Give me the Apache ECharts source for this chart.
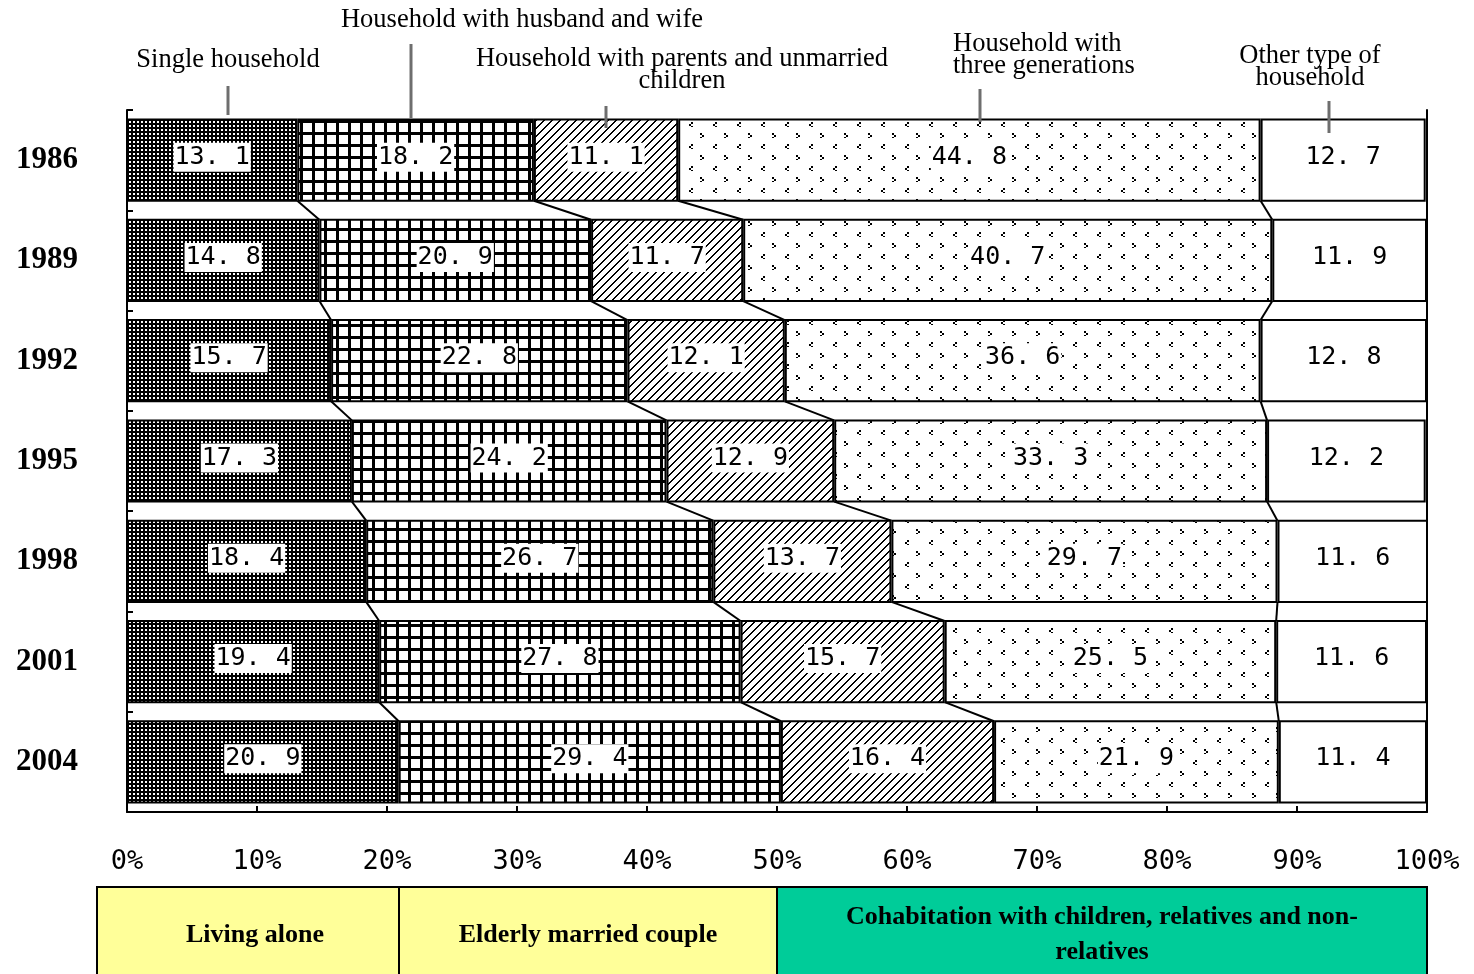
<!DOCTYPE html>
<html>
<head>
<meta charset="utf-8">
<title>Household structure of elderly people</title>
<script src="https://cdn.jsdelivr.net/npm/echarts@6/dist/echarts.min.js"></script>
<style>
  html, body { margin: 0; padding: 0; background: #fff; }
  #chart { width: 1474px; height: 974px; }
</style>
</head>
<body>
<div id="chart"></div>
<script>
// Survey years (one bar per year)
const years = ['1986', '1989', '1992', '1995', '1998', '2001', '2004'];

// Share of households (%) by type
const singleHousehold   = [13.1, 14.8, 15.7, 17.3, 18.4, 19.4, 20.9];
const husbandAndWife    = [18.2, 20.9, 22.8, 24.2, 26.7, 27.8, 29.4];
const parentsUnmarried  = [11.1, 11.7, 12.1, 12.9, 13.7, 15.7, 16.4];
const threeGenerations  = [44.8, 40.7, 36.6, 33.3, 29.7, 25.5, 21.9];
const otherHousehold    = [12.7, 11.9, 12.8, 12.2, 11.6, 11.6, 11.4];

// Percent axis ticks
const percentTicks = [0, 10, 20, 30, 40, 50, 60, 70, 80, 90, 100];

const seriesValues = [singleHousehold, husbandAndWife, parentsUnmarried, threeGenerations, otherHousehold];

// ---- fill patterns ----
function makeTile(w, h, draw) {
  const c = document.createElement('canvas');
  c.width = w; c.height = h;
  const ctx = c.getContext('2d');
  draw(ctx);
  return { image: c, repeat: 'repeat' };
}
// dark field with small white dots
const densePattern = makeTile(4, 4, ctx => {
  ctx.fillStyle = '#000'; ctx.fillRect(0, 0, 4, 4);
  ctx.fillStyle = '#fff'; ctx.fillRect(1, 1, 2, 2);
});
// square lattice
const gridPattern = makeTile(12, 12, ctx => {
  ctx.fillStyle = '#000'; ctx.fillRect(0, 0, 12, 12);
  ctx.fillStyle = '#fff'; ctx.fillRect(3, 3, 9, 9);
});
// forward diagonal hatching
const hatchPattern = makeTile(8, 8, ctx => {
  ctx.fillStyle = '#fff'; ctx.fillRect(0, 0, 8, 8);
  ctx.fillStyle = '#000';
  for (let y = 0; y < 8; y++) {
    const x = (7 - y + 8) % 8;
    ctx.fillRect(x, y, 2, 1);
    if (x + 2 > 8) ctx.fillRect(0, y, x + 2 - 8, 1);
  }
});
// sparse chevron dots
const sparsePattern = makeTile(24, 22, ctx => {
  ctx.fillStyle = '#fff'; ctx.fillRect(0, 0, 24, 22);
  ctx.fillStyle = '#000';
  // ">" mark
  ctx.fillRect(4, 1, 2, 2); ctx.fillRect(6, 3, 2, 2); ctx.fillRect(4, 5, 2, 1);
  // "<" mark
  ctx.fillRect(19, 12, 2, 2); ctx.fillRect(17, 14, 2, 2); ctx.fillRect(19, 16, 2, 1);
});

const fills = [densePattern, gridPattern, hatchPattern, sparsePattern, '#ffffff'];
const names = ['Single household', 'Household with husband and wife',
  'Household with parents and unmarried children', 'Household with three generations',
  'Other type of household'];

const BAR_RATIO = 0.83;

function fmtValue(v) {
  return v.toFixed(1).replace('.', '. ');
}

const barSeries = seriesValues.map((vals, s) => ({
  name: names[s],
  type: 'bar',
  stack: 'total',
  barWidth: (BAR_RATIO * 100) + '%',
  data: vals,
  itemStyle: { color: fills[s], borderColor: '#000', borderWidth: 2 },
  label: {
    show: true,
    position: 'inside',
    offset: [0, -3],
    formatter: p => fmtValue(p.value),
    fontFamily: '"DejaVu Sans Mono", monospace',
    fontSize: 25,
    color: '#000',
    backgroundColor: '#fff',
    padding: [3, 1, 1, 1]
  },
  emphasis: { disabled: true },
  silent: true
}));

// series lines joining the segment boundaries of consecutive bars
const connectorData = [];
for (let i = 0; i < years.length - 1; i++) {
  let a = 0, b = 0;
  for (let s = 0; s < seriesValues.length - 1; s++) {
    a += seriesValues[s][i];
    b += seriesValues[s][i + 1];
    connectorData.push([+a.toFixed(1), i, +b.toFixed(1), i + 1]);
  }
}

const connectorSeries = {
  type: 'custom',
  silent: true,
  z: 3,
  encode: { x: [0, 2], y: [1, 3] },
  data: connectorData,
  renderItem: (params, api) => {
    const p0 = api.coord([api.value(0), api.value(1)]);
    const p1 = api.coord([api.value(2), api.value(3)]);
    const half = api.size([0, 1])[1] * BAR_RATIO / 2;
    return {
      type: 'line',
      shape: { x1: p0[0], y1: p0[1] + half - 1, x2: p1[0], y2: p1[1] - half + 1 },
      style: { stroke: '#000', lineWidth: 2 }
    };
  }
};

const serif = '"Liberation Serif", "Times New Roman", serif';

// category captions above the bars, with leader lines
function caption(x, y, text, align) {
  return {
    type: 'text', x: x, y: y, silent: true,
    style: {
      text: text, font: '26.5px ' + serif, fill: '#000',
      textAlign: align || 'center', textVerticalAlign: 'middle', lineHeight: 22
    }
  };
}
function leader(x, y1, y2) {
  return {
    type: 'line', silent: true, z: 10,
    shape: { x1: x, y1: y1, x2: x, y2: y2 },
    style: { stroke: '#6e6e6e', lineWidth: 3 }
  };
}

// grouping boxes under the axis
function groupBox(x1, x2, fill, text, textX) {
  return {
    type: 'group', silent: true,
    children: [
      { type: 'rect', shape: { x: x1, y: 887, width: x2 - x1, height: 100 },
        style: { fill: fill, stroke: '#000', lineWidth: 2 } },
      { type: 'text', x: textX, y: 935,
        style: { text: text, font: 'bold 26px ' + serif, fill: '#000',
          textAlign: 'center', textVerticalAlign: 'middle', lineHeight: 35 } }
    ]
  };
}

const chart = echarts.init(document.getElementById('chart'), null, { renderer: 'canvas' });

chart.setOption({
  animation: false,
  backgroundColor: '#fff',
  grid: { left: 127, right: 47, top: 110, bottom: 162, containLabel: false },
  xAxis: {
    type: 'value',
    min: percentTicks[0],
    max: percentTicks[percentTicks.length - 1],
    interval: percentTicks[1] - percentTicks[0],
    axisLine: { show: true, lineStyle: { color: '#000', width: 2 } },
    axisTick: { show: true, inside: true, length: 6, lineStyle: { color: '#000', width: 2 } },
    splitLine: { show: false },
    axisLabel: {
      margin: 36,
      formatter: v => v + '%',
      fontFamily: '"DejaVu Sans Mono", monospace',
      fontSize: 27,
      color: '#000'
    }
  },
  yAxis: [{
    type: 'category',
    data: years,
    inverse: true,
    axisLine: { show: true, lineStyle: { color: '#000', width: 2 } },
    axisTick: { show: true, inside: true, length: 6, lineStyle: { color: '#000', width: 2 } },
    axisLabel: {
      margin: 49,
      fontFamily: serif,
      fontWeight: 'bold',
      fontSize: 31,
      color: '#000'
    }
  }, {
    type: 'category',
    data: years,
    inverse: true,
    position: 'right',
    axisLine: { show: true, lineStyle: { color: '#000', width: 2 } },
    axisTick: { show: false },
    axisLabel: { show: false }
  }],
  series: barSeries.concat([connectorSeries]),
  graphic: [
    caption(522, 20, 'Household with husband and wife'),
    caption(228, 60, 'Single household'),
    caption(682, 70, 'Household with parents and unmarried\nchildren'),
    caption(953, 55, 'Household with\nthree generations', 'left'),
    caption(1310, 67, 'Other type of\nhousehold'),
    leader(228, 86, 115),
    leader(411, 44, 118),
    leader(606, 106, 128),
    leader(980, 89, 122),
    leader(1329, 101, 133),
    groupBox(97, 399, '#ffff99', 'Living alone', 255),
    groupBox(399, 777, '#ffff99', 'Elderly married couple', 588),
    groupBox(777, 1427, '#00cc99', 'Cohabitation with children, relatives and non-\nrelatives', 1102)
  ]
});
</script>
</body>
</html>
